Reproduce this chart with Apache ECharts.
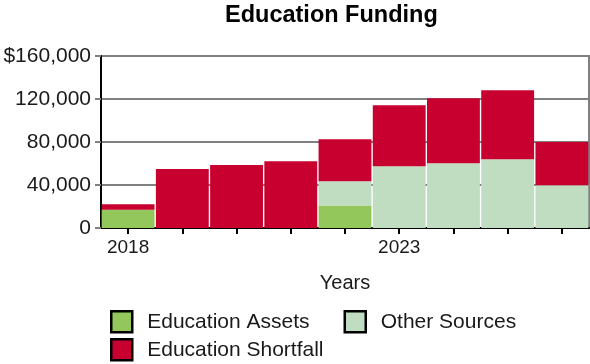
<!DOCTYPE html>
<html>
<head>
<meta charset="utf-8">
<script src="https://cdn.jsdelivr.net/npm/echarts@6/dist/echarts.min.js"></script>
<style>
  html, body { margin: 0; padding: 0; background: #ffffff; }
  #chart { width: 590px; height: 364px; }
</style>
</head>
<body>
<div id="chart"></div>
<script>
// Funding by year, stacked from the bottom: assets, other sources, shortfall
const years = ['2018', '2019', '2020', '2021', '2022', '2023', '2024', '2025', '2026'];
const educationAssets = [17000, 0, 0, 0, 21000, 0, 0, 0, 0];
const otherSources = [0, 0, 0, 0, 22400, 57400, 60200, 63900, 39700];
const educationShortfall = [5000, 55000, 58500, 62000, 39100, 56700, 60500, 64200, 40300];
const yTickLabels = ['0', '40,000', '80,000', '120,000', '$160,000'];

const FONT = '"Liberation Sans", Arial, sans-serif';
const TEXT = '#1a1a1a';

const chart = echarts.init(document.getElementById('chart'), null, { renderer: 'canvas' });

const legendCommon = {
  left: 105,
  padding: 5,
  orient: 'horizontal',
  itemWidth: 21,
  itemHeight: 21,
  itemGap: 34,
  icon: 'rect',
  itemStyle: { borderColor: '#000000', borderWidth: 2.5 },
  textStyle: { fontFamily: FONT, fontSize: 21, color: TEXT, padding: [0, 0, 0, 10] },
  selectedMode: false
};

chart.setOption({
  animation: false,
  textStyle: { fontFamily: FONT },
  title: {
    text: 'Education Funding',
    left: 220,
    top: -1,
    textStyle: { fontFamily: FONT, fontSize: 23.5, fontWeight: 'bold', color: '#000000' }
  },
  legend: [
    Object.assign({}, legendCommon, { top: 305, data: ['Education Assets', 'Other Sources'] }),
    Object.assign({}, legendCommon, { top: 333, data: ['Education Shortfall'] })
  ],
  grid: {
    left: 101,
    right: 1,
    top: 56,
    bottom: 136,
    show: true,
    borderColor: '#808080',
    borderWidth: 2,
    containLabel: false
  },
  xAxis: {
    type: 'category',
    data: years,
    boundaryGap: true,
    name: 'Years',
    nameLocation: 'middle',
    nameGap: 45,
    nameTextStyle: { fontFamily: FONT, fontSize: 20, color: TEXT },
    axisLine: { show: true, lineStyle: { color: '#000000', width: 2 } },
    axisTick: { show: true, alignWithLabel: true, interval: 0, length: 6, lineStyle: { color: '#000000', width: 2 } },
    axisLabel: {
      interval: function (index) { return index % 5 === 0; },
      margin: 10,
      fontFamily: FONT,
      fontSize: 19,
      color: TEXT
    },
    splitLine: { show: false }
  },
  yAxis: {
    type: 'value',
    min: 0,
    max: 160000,
    interval: 40000,
    axisLine: { show: true, lineStyle: { color: '#000000', width: 2 } },
    axisTick: { show: true, length: 6, lineStyle: { color: '#808080', width: 2 } },
    axisLabel: {
      margin: 10,
      fontFamily: FONT,
      fontSize: 21,
      color: TEXT,
      formatter: function (value) { return yTickLabels[Math.round(value / 40000)]; }
    },
    splitLine: { show: true, lineStyle: { color: '#808080', width: 2 } }
  },
  series: [
    {
      name: 'Education Assets',
      type: 'bar',
      stack: 'funding',
      data: educationAssets,
      barCategoryGap: '2.5%',
      itemStyle: { color: '#93c75b' }
    },
    {
      name: 'Other Sources',
      type: 'bar',
      stack: 'funding',
      data: otherSources,
      barCategoryGap: '2.5%',
      itemStyle: { color: '#c0dcc1' }
    },
    {
      name: 'Education Shortfall',
      type: 'bar',
      stack: 'funding',
      data: educationShortfall,
      barCategoryGap: '2.5%',
      itemStyle: { color: '#c80030' }
    }
  ]
});
</script>
</body>
</html>
